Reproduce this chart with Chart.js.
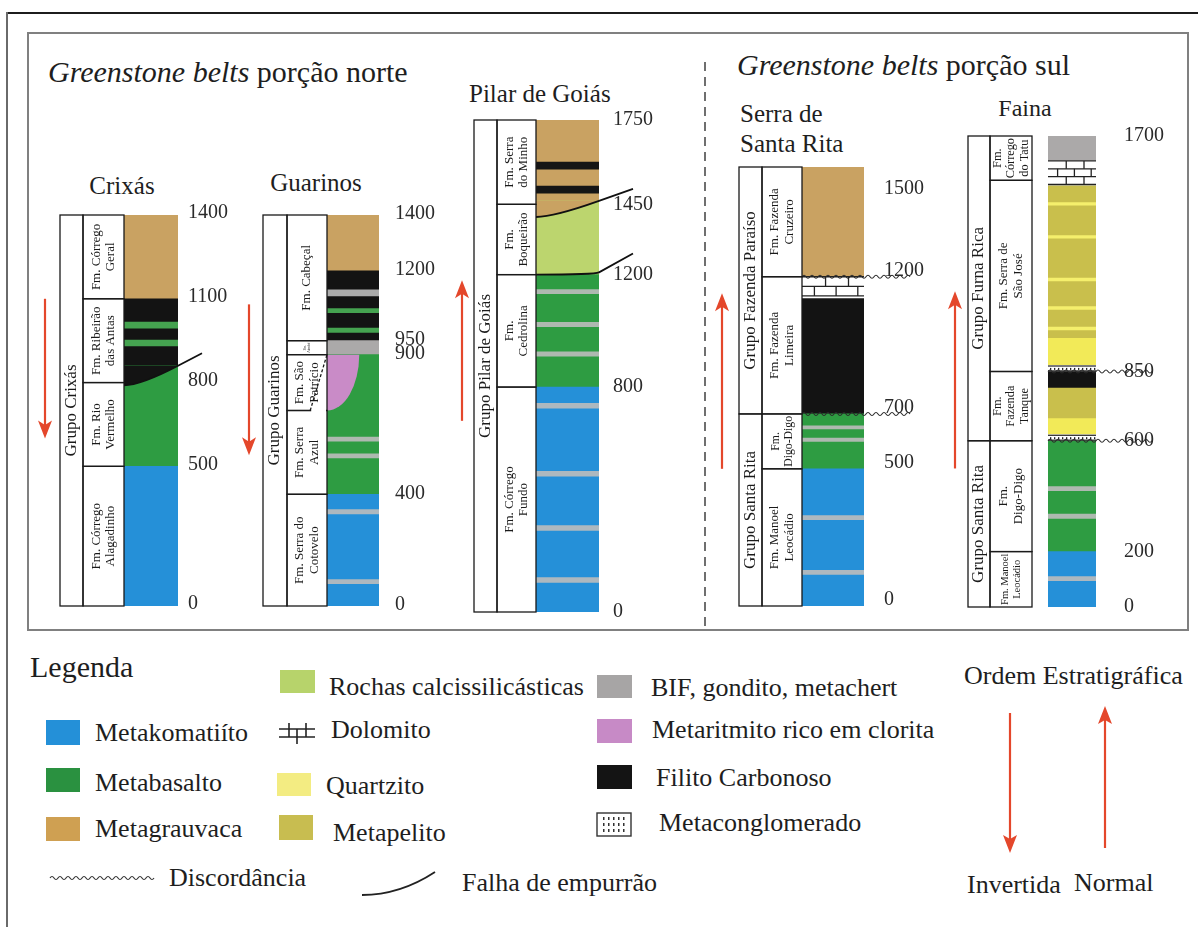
<!DOCTYPE html>
<html lang="pt-BR">
<head>
<meta charset="utf-8">
<title>Colunas estratigráficas dos greenstone belts</title>
<script src="https://cdn.jsdelivr.net/npm/chart.js@4.4.1/dist/chart.umd.min.js"></script>
<style>
  html, body { margin: 0; padding: 0; background: #fff; }
  #sheet { position: relative; width: 1198px; height: 927px; overflow: hidden; background: #fff;
           font-family: "Liberation Serif", "DejaVu Serif", serif; color: #1e1e1e; }
  .rule { position: absolute; }
  .txt { position: absolute; white-space: nowrap; line-height: 1; transform: translateY(-50%); }
  .ctr { transform: translate(-50%, -50%); }
  .sw { position: absolute; }
  #sheet canvas { position: absolute; }
  #sheet svg { position: absolute; overflow: visible; }
</style>
</head>
<body>
<div id="sheet">
  <!-- page frame -->
  <div class="rule" style="left:6px;top:12px;width:1192px;height:2px;background:#1c1c1c"></div>
  <div class="rule" style="left:6px;top:12px;width:2px;height:915px;background:#6a6a6a"></div>
  <div class="rule" style="left:27px;top:32px;width:1162px;height:599px;border:2px solid #808080;box-sizing:border-box"></div>
  <svg style="left:0;top:0" width="1198" height="640">
    <line x1="705" y1="62" x2="705" y2="626" stroke="#333" stroke-width="1.4" stroke-dasharray="9 6"/>
  </svg>

  <!-- section and column titles -->
  <div class="txt" style="left:48px;top:72px;font-size:30px"><i>Greenstone belts</i> porção norte</div>
  <div class="txt" style="left:737px;top:65px;font-size:30px"><i>Greenstone belts</i> porção sul</div>
  <div class="txt ctr" style="left:122px;top:185px;font-size:25px">Crixás</div>
  <div class="txt ctr" style="left:316px;top:182px;font-size:25px">Guarinos</div>
  <div class="txt" style="left:469px;top:93px;font-size:25px">Pilar de Goiás</div>
  <div class="txt" style="left:740px;top:113px;font-size:25px">Serra de</div>
  <div class="txt" style="left:740px;top:143px;font-size:25px">Santa Rita</div>
  <div class="txt ctr" style="left:1025px;top:108px;font-size:24px">Faina</div>

  <!-- legend -->
  <div class="txt" style="left:30px;top:667px;font-size:30px">Legenda</div>

  <div class="sw" style="left:46px;top:720px;width:34px;height:25px;background:#2490d8"></div>
  <div class="txt" style="left:95px;top:733px;font-size:26px">Metakomatiíto</div>
  <div class="sw" style="left:46px;top:768px;width:34px;height:24px;background:#2a9140"></div>
  <div class="txt" style="left:95px;top:783px;font-size:26px">Metabasalto</div>
  <div class="sw" style="left:46px;top:817px;width:34px;height:24px;background:#cfa052"></div>
  <div class="txt" style="left:95px;top:829px;font-size:26px">Metagrauvaca</div>

  <div class="sw" style="left:280px;top:670px;width:35px;height:23px;background:#b7d36b"></div>
  <div class="txt" style="left:329px;top:687px;font-size:26px">Rochas calcissilicásticas</div>
  <svg style="left:279px;top:722px" width="36" height="23">
    <g stroke="#222" stroke-width="1.6" fill="none">
      <line x1="0" y1="7" x2="36" y2="7"/><line x1="0" y1="15" x2="36" y2="15"/>
      <line x1="10" y1="1" x2="10" y2="15"/><line x1="27" y1="1" x2="27" y2="15"/>
      <line x1="18" y1="7" x2="18" y2="22"/>
    </g>
  </svg>
  <div class="txt" style="left:331px;top:730px;font-size:26px">Dolomito</div>
  <div class="sw" style="left:277px;top:773px;width:34px;height:23px;background:#f3ec82"></div>
  <div class="txt" style="left:326px;top:786px;font-size:26px">Quartzito</div>
  <div class="sw" style="left:279px;top:815px;width:34px;height:25px;background:#c8bd50"></div>
  <div class="txt" style="left:333px;top:833px;font-size:26px">Metapelito</div>

  <div class="sw" style="left:597px;top:675px;width:35px;height:23px;background:#a7a5a5"></div>
  <div class="txt" style="left:651px;top:688px;font-size:26px">BIF, gondito, metachert</div>
  <div class="sw" style="left:597px;top:719px;width:35px;height:24px;background:#c78ac6"></div>
  <div class="txt" style="left:652px;top:730px;font-size:26px">Metaritmito rico em clorita</div>
  <div class="sw" style="left:597px;top:765px;width:35px;height:24px;background:#141414"></div>
  <div class="txt" style="left:656px;top:778px;font-size:26px">Filito Carbonoso</div>
  <svg style="left:596px;top:812px" width="36" height="25">
    <rect x="1" y="1" width="34" height="23" fill="#fff" stroke="#333" stroke-width="1.4"/>
    <g fill="#333">
      <rect x="7" y="5" width="1.5" height="3"/><rect x="12" y="5" width="1.5" height="3"/><rect x="17" y="5" width="1.5" height="3"/><rect x="22" y="5" width="1.5" height="3"/><rect x="27" y="5" width="1.5" height="3"/>
      <rect x="7" y="11" width="1.5" height="3"/><rect x="12" y="11" width="1.5" height="3"/><rect x="17" y="11" width="1.5" height="3"/><rect x="22" y="11" width="1.5" height="3"/><rect x="27" y="11" width="1.5" height="3"/>
      <rect x="7" y="17" width="1.5" height="3"/><rect x="12" y="17" width="1.5" height="3"/><rect x="17" y="17" width="1.5" height="3"/><rect x="22" y="17" width="1.5" height="3"/><rect x="27" y="17" width="1.5" height="3"/>
    </g>
  </svg>
  <div class="txt" style="left:659px;top:823px;font-size:26px">Metaconglomerado</div>

  <svg style="left:50px;top:872px" width="104" height="12">
    <path fill="none" stroke="#333" stroke-width="1.2"
      d="M0 6 q2 -3 4 0 q2 3 4 0 q2 -3 4 0 q2 3 4 0 q2 -3 4 0 q2 3 4 0 q2 -3 4 0 q2 3 4 0 q2 -3 4 0 q2 3 4 0 q2 -3 4 0 q2 3 4 0 q2 -3 4 0 q2 3 4 0 q2 -3 4 0 q2 3 4 0 q2 -3 4 0 q2 3 4 0 q2 -3 4 0 q2 3 4 0 q2 -3 4 0 q2 3 4 0 q2 -3 4 0 q2 3 4 0 q2 -3 4 0 q2 3 4 0"/>
  </svg>
  <div class="txt" style="left:169px;top:878px;font-size:26px">Discordância</div>
  <svg style="left:362px;top:871px" width="74" height="26">
    <path d="M0 24 Q38 24 73 1" fill="none" stroke="#222" stroke-width="1.8"/>
  </svg>
  <div class="txt" style="left:462px;top:883px;font-size:26px">Falha de empurrão</div>

  <div class="txt" style="left:964px;top:676px;font-size:26px">Ordem Estratigráfica</div>
  <svg style="left:990px;top:700px" width="130" height="160">
    <g stroke="#e4472b" fill="#e4472b">
      <line x1="20" y1="13" x2="20" y2="140" stroke-width="2.2"/>
      <path d="M20 153 L13 135 L20 139 L27 135 Z" stroke="none"/>
      <line x1="115" y1="148" x2="115" y2="20" stroke-width="2.2"/>
      <path d="M115 6 L108 24 L115 20 L122 24 Z" stroke="none"/>
    </g>
  </svg>
  <div class="txt" style="left:967px;top:885px;font-size:26px">Invertida</div>
  <div class="txt" style="left:1074px;top:883px;font-size:26px">Normal</div>
</div>

<script>
// ---------- lithology palette ----------
const lithColor = {
  kom: '#2590d8',   // metakomatiíto
  bas: '#2e9c42',   // metabasalto
  grv: '#c9a262',   // metagrauvaca
  calc: '#bcd56e',  // rochas calcissilicásticas
  qtz: '#f2ea58',   // quartzito
  pel: '#c9bf4c',   // metapelito
  bif: '#aba9a9',   // BIF, gondito, metachert
  rit: '#c98bc7',   // metaritmito rico em clorita
  fil: '#131313',   // filito carbonoso
  dol: '#ffffff',   // dolomito (symbol drawn on top)
  cgl: '#ffffff'    // metaconglomerado (symbol drawn on top)
};
const bandColor = { bif: 'rgba(188,188,188,0.9)', bas: '#45a350', fil: '#151515', qtz: '#f5ef6c' };

// ---------- Crixás ----------
const crixasTop = 1400;
const crixasTicks = [0, 500, 800, 1100, 1400];
const crixasLayers = [['kom', 0, 500], ['bas', 500, 860], ['fil', 860, 1100], ['grv', 1100, 1400]];
const crixasBands = [['bas', 931, 952], ['bas', 995, 1017]];
const crixasFaults = [['fil', 790, 860, 905]];
const crixasGroups = [['Grupo Crixás', 0, 1400]];
const crixasFormations = [['Fm. Córrego|Alagadinho', 0, 500], ['Fm. Rio|Vermelho', 500, 800],
                          ['Fm. Ribeirão|das Antas', 800, 1100], ['Fm. Córrego|Geral', 1100, 1400]];
const crixasArrow = [1100, 600];

// ---------- Guarinos ----------
const guarinosTop = 1400;
const guarinosTicks = [0, 400, 900, 950, 1200, 1400];
const guarinosLayers = [['kom', 0, 400], ['bas', 400, 900], ['bif', 900, 950], ['fil', 950, 1200], ['grv', 1200, 1400]];
const guarinosBands = [['bif', 80, 95], ['bif', 330, 345], ['bif', 530, 545], ['bif', 590, 605],
                       ['bas', 980, 995], ['bas', 1050, 1065], ['bif', 1110, 1132]];
const guarinosLenses = [['rit', 700, 900]];
const guarinosGroups = [['Grupo Guarinos', 0, 1400]];
const guarinosFormations = [['Fm. Serra do|Cotovelo', 0, 400], ['Fm. Serra|Azul', 400, 700],
                            ['Fm. São|Patrício', 700, 900], ['Fm.|Aimbé', 900, 950], ['Fm. Cabeçal', 950, 1400]];
const guarinosOblique = [700];
const guarinosArrow = [1080, 540];

// ---------- Pilar de Goiás ----------
const pilarTop = 1750;
const pilarTicks = [0, 800, 1200, 1450, 1750];
const pilarLayers = [['kom', 0, 800], ['bas', 800, 1200], ['calc', 1200, 1462], ['grv', 1462, 1750]];
const pilarBands = [['bif', 105, 122], ['bif', 290, 307], ['bif', 483, 500], ['bif', 725, 742],
                    ['bif', 910, 925], ['bif', 1015, 1030], ['bif', 1132, 1147],
                    ['fil', 1490, 1515], ['fil', 1575, 1600]];
const pilarFaults = [['calc', 1200, 1208, 1275], ['grv', 1405, 1462, 1505]];
const pilarGroups = [['Grupo Pilar de Goiás', 0, 1750]];
const pilarFormations = [['Fm. Córrego|Fundo', 0, 800], ['Fm.|Cedrolina', 800, 1200],
                         ['Fm.|Boqueirão', 1200, 1450], ['Fm. Serra|do Minho', 1450, 1750]];
const pilarArrow = [680, 1180];

// ---------- Serra de Santa Rita ----------
const santaRitaTop = 1600;
const santaRitaTicks = [0, 500, 700, 1200, 1500];
const santaRitaLayers = [['kom', 0, 500], ['bas', 500, 700], ['fil', 700, 1120], ['dol', 1130, 1200], ['grv', 1200, 1600]];
const santaRitaBands = [['bif', 115, 130], ['bif', 315, 330], ['bif', 600, 612], ['bif', 645, 657]];
const santaRitaDiscordances = [700, 1200];
const santaRitaGroups = [['Grupo Santa Rita', 0, 700], ['Grupo Fazenda Paraíso', 700, 1600]];
const santaRitaFormations = [['Fm. Manoel|Leocádio', 0, 500], ['Fm.|Digo-Digo', 500, 700],
                             ['Fm. Fazenda|Limeira', 700, 1200], ['Fm. Fazenda|Cruzeiro', 1200, 1600]];
const santaRitaArrow = [500, 1140];

// ---------- Faina ----------
const fainaTop = 1700;
const fainaTicks = [0, 200, 600, 850, 1700];
const fainaLayers = [['kom', 0, 200], ['bas', 200, 600], ['cgl', 600, 622], ['qtz', 622, 680], ['pel', 680, 790],
                     ['fil', 790, 850], ['cgl', 850, 872], ['qtz', 872, 970], ['pel', 970, 1520],
                     ['dol', 1525, 1610], ['bif', 1610, 1700]];
const fainaBands = [['bif', 95, 110], ['bif', 320, 335], ['bif', 420, 435],
                    ['qtz', 1000, 1010], ['qtz', 1074, 1084], ['qtz', 1177, 1187], ['qtz', 1331, 1341], ['qtz', 1450, 1460]];
const fainaDiscordances = [600, 850];
const fainaGroups = [['Grupo Santa Rita', 0, 600], ['Grupo Furna Rica', 600, 1700]];
const fainaFormations = [['Fm. Manoel|Leocádio', 0, 200], ['Fm.|Digo-Digo', 200, 600], ['Fm.|Fazenda|Tanque', 600, 850],
                         ['Fm. Serra de|São José', 850, 1540], ['Fm.|Córrego|do Tatu', 1540, 1700]];
const fainaArrow = [500, 1140];

// ---------- assembled columns ----------
const columns = [
  { key: 'crixas', top: crixasTop, ticks: crixasTicks, layers: crixasLayers, bands: crixasBands,
    faults: crixasFaults, groups: crixasGroups, formations: crixasFormations, arrow: crixasArrow },
  { key: 'guarinos', top: guarinosTop, ticks: guarinosTicks, layers: guarinosLayers, bands: guarinosBands,
    lenses: guarinosLenses, groups: guarinosGroups, formations: guarinosFormations, oblique: guarinosOblique, arrow: guarinosArrow },
  { key: 'pilar', top: pilarTop, ticks: pilarTicks, layers: pilarLayers, bands: pilarBands,
    faults: pilarFaults, groups: pilarGroups, formations: pilarFormations, arrow: pilarArrow },
  { key: 'santaRita', top: santaRitaTop, ticks: santaRitaTicks, layers: santaRitaLayers, bands: santaRitaBands,
    discordances: santaRitaDiscordances, groups: santaRitaGroups, formations: santaRitaFormations, arrow: santaRitaArrow },
  { key: 'faina', top: fainaTop, ticks: fainaTicks, layers: fainaLayers, bands: fainaBands,
    discordances: fainaDiscordances, groups: fainaGroups, formations: fainaFormations, arrow: fainaArrow }
];

// ---------- page placement of each column ----------
const frames = {
  crixas:    { arrowX: 45,  lithoL: 124,  lithoW: 54, grW: 23, fmW: 41, gap: 0,  top: 215, bottom: 606, tickPad: 10, shift: -2, reach: 24 },
  guarinos:  { arrowX: 249, lithoL: 327,  lithoW: 52, grW: 24, fmW: 40, gap: 0,  top: 215, bottom: 606, tickPad: 16, shift: -1, reach: 0 },
  pilar:     { arrowX: 462, lithoL: 536,  lithoW: 63, grW: 23, fmW: 39, gap: 0,  top: 120, bottom: 612, tickPad: 14, shift: 0,  reach: 34 },
  santaRita: { arrowX: 722, lithoL: 802,  lithoW: 62, grW: 23, fmW: 40, gap: 0,  top: 167, bottom: 606, tickPad: 20, shift: -6, reach: 46 },
  faina:     { arrowX: 955, lithoL: 1048, lithoW: 48, grW: 22, fmW: 42, gap: 16, top: 136, bottom: 607, tickPad: 28, shift: 0,  reach: 55 }
};

const SERIF = '"Liberation Serif", "DejaVu Serif", serif';
const PAD = 46, AXIS_W = 80;

function wavyLine(ctx, x0, x1, yy) {
  const wl = 4, amp = 3;
  ctx.beginPath();
  ctx.moveTo(x0, yy);
  let k = 0;
  for (let x = x0; x < x1; x += wl, k++) {
    ctx.quadraticCurveTo(x + wl / 2, yy + (k % 2 ? amp : -amp), x + wl, yy);
  }
  ctx.stroke();
}

function redArrow(ctx, x, yFrom, yTo) {
  const dir = Math.sign(yTo - yFrom), hl = 18, hw = 7;
  ctx.strokeStyle = '#e4472b';
  ctx.fillStyle = '#e4472b';
  ctx.lineWidth = 2.2;
  ctx.beginPath();
  ctx.moveTo(x, yFrom);
  ctx.lineTo(x, yTo - dir * hl * 0.7);
  ctx.stroke();
  ctx.beginPath();
  ctx.moveTo(x, yTo);
  ctx.lineTo(x - hw, yTo - dir * hl);
  ctx.lineTo(x, yTo - dir * hl * 0.75);
  ctx.lineTo(x + hw, yTo - dir * hl);
  ctx.closePath();
  ctx.fill();
}

function rotatedText(ctx, text, cx, cy, cellLen, cellThick, size) {
  const lines = text.split('|');
  ctx.font = size + 'px ' + SERIF;
  const longest = Math.max(...lines.map(t => ctx.measureText(t).width));
  const k = Math.min(1, (cellLen - 4) / longest, (cellThick - 2) / (lines.length * size * 1.08));
  const s = size * k;
  ctx.font = s + 'px ' + SERIF;
  ctx.save();
  ctx.translate(cx, cy);
  ctx.rotate(-Math.PI / 2);
  ctx.textAlign = 'center';
  ctx.textBaseline = 'middle';
  ctx.fillStyle = '#1a1a1a';
  lines.forEach((t, i) => ctx.fillText(t, 0, (i - (lines.length - 1) / 2) * s * 1.1));
  ctx.restore();
}

// quadratic fault plane: flat at the left edge, tangent to the trace that leaves the column
function faultPath(ctx, L, R, Y, reach, vl, vr, vt) {
  const p0 = { x: L, y: Y(vl) }, p2 = { x: R, y: Y(vr) }, tip = { x: R + reach, y: Y(vt) };
  const dy = tip.y - p2.y;
  let cx = (p0.x + p2.x) / 2;
  if (Math.abs(dy) > 0.5) cx = p2.x - (tip.x - p2.x) * (p2.y - p0.y) / dy;
  cx = Math.min(R, Math.max(L, cx));
  ctx.moveTo(p0.x, p0.y);
  ctx.quadraticCurveTo(cx, p0.y, p2.x, p2.y);
  return { p2, tip };
}

function stratPlugin(col, fr) {
  return {
    id: 'strat_' + col.key,
    afterDatasetsDraw(chart) {
      const ctx = chart.ctx, y = chart.scales.y, area = chart.chartArea;
      const L = area.left, R = area.right, W = R - L;
      const Y = v => y.getPixelForValue(v);
      ctx.save();

      // thrust-fault wedges: colour above the curved fault plane
      (col.faults || []).forEach(([lith, vl, vr, vt]) => {
        ctx.beginPath();
        const { p2 } = faultPath(ctx, L, R, Y, fr.reach, vl, vr, vt);
        ctx.lineTo(L, p2.y);
        ctx.closePath();
        ctx.fillStyle = lithColor[lith];
        ctx.fill();
      });

      // lenses (quarter ellipse hanging from the upper contact)
      (col.lenses || []).forEach(([lith, v0, v1]) => {
        const yt = Y(v1), yb = Y(v0);
        ctx.beginPath();
        ctx.moveTo(L, yt);
        ctx.ellipse(L, yt, W * 0.62, yb - yt, 0, 0, Math.PI / 2);
        ctx.closePath();
        ctx.fillStyle = lithColor[lith];
        ctx.fill();
      });

      // dolomite and metaconglomerate symbols
      col.layers.forEach(([lith, v0, v1]) => {
        const yt = Y(v1), yb = Y(v0), h = yb - yt;
        if (lith === 'dol') {
          ctx.strokeStyle = '#222';
          ctx.lineWidth = 1.3;
          const rows = Math.max(1, Math.round(h / 9)), rh = h / rows;
          for (let r = 0; r <= rows; r++) {
            ctx.beginPath(); ctx.moveTo(L, yt + r * rh); ctx.lineTo(R, yt + r * rh); ctx.stroke();
          }
          for (let r = 0; r < rows; r++) {
            const xs = r % 2 ? [0.2, 0.55, 0.9] : [0.38, 0.75];
            xs.forEach(f => {
              ctx.beginPath(); ctx.moveTo(L + W * f, yt + r * rh); ctx.lineTo(L + W * f, yt + (r + 1) * rh); ctx.stroke();
            });
          }
        }
        if (lith === 'cgl') {
          ctx.fillStyle = '#222';
          ctx.fillRect(L, yt, W, 1.2);
          ctx.fillRect(L, yb - 1.2, W, 1.2);
          for (let x = L + 2; x < R - 1; x += 4) {
            for (let yy = yt + 2.5; yy < yb - 2.5; yy += 4) ctx.fillRect(x, yy, 1.3, 2);
          }
        }
      });

      // fault traces
      (col.faults || []).forEach(([lith, vl, vr, vt]) => {
        ctx.strokeStyle = '#111';
        ctx.lineWidth = 1.8;
        ctx.beginPath();
        const { tip } = faultPath(ctx, L, R, Y, fr.reach, vl, vr, vt);
        ctx.lineTo(tip.x, tip.y);
        ctx.stroke();
      });

      // unconformities
      ctx.strokeStyle = '#2a2a2a';
      ctx.lineWidth = 1.1;
      (col.discordances || []).forEach(v => wavyLine(ctx, L, R + fr.reach, Y(v)));

      // formation / group table
      const fmR = L - fr.gap, fmL = fmR - fr.fmW, grL = fmL - fr.grW;
      ctx.strokeStyle = '#1a1a1a';
      ctx.lineWidth = 1.3;
      col.groups.forEach(([name, a, b]) => {
        const yt = Y(b), yb = Y(a);
        ctx.strokeRect(grL, yt, fr.grW, yb - yt);
        rotatedText(ctx, name, grL + fr.grW / 2, (yt + yb) / 2, yb - yt, fr.grW, 17);
      });
      col.formations.forEach(([name, a, b]) => {
        const yt = Y(b), yb = Y(a);
        ctx.strokeRect(fmL, yt, fr.fmW, yb - yt);
        rotatedText(ctx, name, fmL + fr.fmW / 2, (yt + yb) / 2, yb - yt, fr.fmW, 13);
      });
      (col.oblique || []).forEach(v => {
        const f = col.formations.find(e => e[1] === v);
        const yy = Y(v), yTop = Y(f[2]), xm = fmL + fr.fmW * 0.58;
        ctx.fillStyle = '#fff';
        ctx.fillRect(xm + 1, yy - 1.5, fmR - xm - 2, 3);
        ctx.setLineDash([3, 2]);
        ctx.beginPath(); ctx.moveTo(xm, yy); ctx.lineTo(fmR, yTop); ctx.stroke();
        ctx.setLineDash([]);
      });

      // stratigraphic order arrow
      redArrow(ctx, L - (fr.lithoL - fr.arrowX), Y(col.arrow[0]), Y(col.arrow[1]));
      ctx.restore();
    }
  };
}

function buildColumn(col) {
  const fr = frames[col.key];
  const left = fr.arrowX - 14;
  const padL = fr.lithoL - left;
  const w = padL + fr.lithoW + AXIS_W + 2;
  const h = fr.bottom - fr.top + 2 * PAD;
  const cv = document.createElement('canvas');
  cv.width = w; cv.height = h;
  cv.style.left = left + 'px'; cv.style.top = (fr.top - PAD) + 'px';
  cv.style.width = w + 'px'; cv.style.height = h + 'px';
  document.getElementById('sheet').appendChild(cv);

  const base = col.layers.map(([lith, a, b]) => ({ label: lith, data: [[a, b]], backgroundColor: lithColor[lith], order: 2 }));
  const bands = col.bands.map(([lith, a, b]) => ({ label: lith, data: [[a, b]], backgroundColor: bandColor[lith], order: 1 }));

  new Chart(cv, {
    type: 'bar',
    data: { labels: [col.key], datasets: base.concat(bands) },
    options: {
      responsive: false, animation: false, events: [], devicePixelRatio: 1,
      datasets: { bar: { barPercentage: 1, categoryPercentage: 1, grouped: false, borderWidth: 0 } },
      layout: { padding: { left: padL, right: 2, top: PAD, bottom: PAD } },
      plugins: { legend: { display: false }, tooltip: { enabled: false }, title: { display: false } },
      scales: {
        x: { display: false },
        y: {
          position: 'right', min: 0, max: col.top,
          grid: { display: false, drawTicks: false }, border: { display: false },
          afterBuildTicks: s => { s.ticks = col.ticks.map(v => ({ value: v })); },
          afterFit: s => { s.width = AXIS_W; },
          ticks: { autoSkip: false, padding: fr.tickPad, labelOffset: fr.shift, color: '#2a2a2a',
                   font: { family: SERIF, size: 20 }, callback: v => String(v) }
        }
      }
    },
    plugins: [stratPlugin(col, fr)]
  });
}

columns.forEach(buildColumn);
</script>
</body>
</html>
